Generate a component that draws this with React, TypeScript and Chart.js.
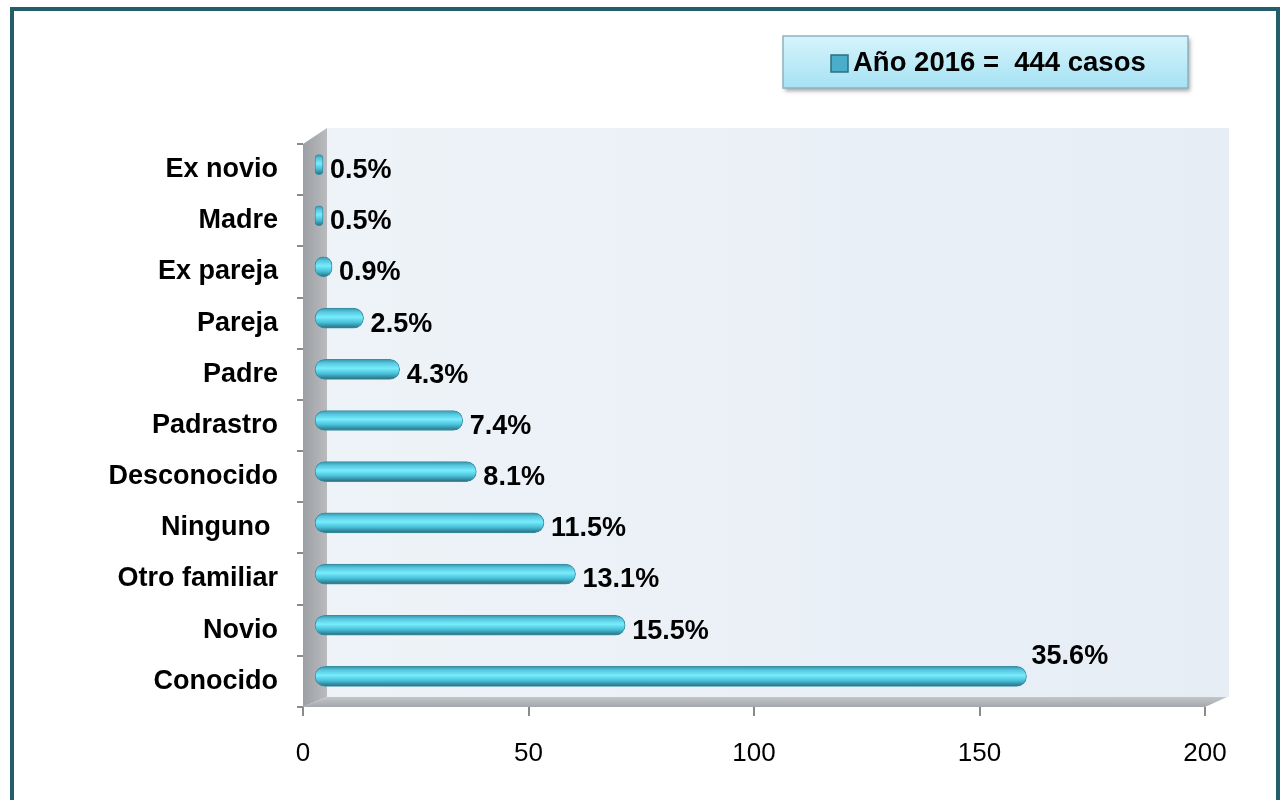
import React, { useEffect, useRef } from "react";
import { Chart, registerables } from "chart.js";

Chart.register(...registerables);

const categories = [
  "Ex novio",
  "Madre",
  "Ex pareja",
  "Pareja",
  "Padre",
  "Padrastro",
  "Desconocido",
  "Ninguno ",
  "Otro familiar",
  "Novio",
  "Conocido",
];
const casos = [2, 2, 4, 11, 19, 33, 36, 51, 58, 69, 158];
const porcentajes = ["0.5%", "0.5%", "0.9%", "2.5%", "4.3%", "7.4%", "8.1%", "11.5%", "13.1%", "15.5%", "35.6%"];
const xMin = 0;
const xMax = 200;
const xStep = 50;
const seriesLabel = "Año 2016 =  444 casos";

const FONT = "Arial, 'Liberation Sans', sans-serif";
const DX = 11;
const DY = -5;

const scenePlugin = {
  id: "scene3d",
  beforeDraw(chart: any) {
    const { ctx, chartArea } = chart;
    const l = chartArea.left, r = chartArea.right, t = chartArea.top, b = chartArea.bottom;
    const depthX = 24, depthY = 10;
    ctx.save();
    const bg = ctx.createLinearGradient(l + depthX, 0, r + depthX, 0);
    bg.addColorStop(0, "#eef3f8");
    bg.addColorStop(1, "#e6edf5");
    ctx.fillStyle = bg;
    ctx.fillRect(l + depthX, t - depthY - 6, r - l, b - t + 6);
    const wg = ctx.createLinearGradient(l, 0, l + depthX, 0);
    wg.addColorStop(0, "#9c9fa3");
    wg.addColorStop(1, "#b9bbbe");
    ctx.fillStyle = wg;
    ctx.beginPath();
    ctx.moveTo(l, t);
    ctx.lineTo(l + depthX, t - depthY - 6);
    ctx.lineTo(l + depthX, b - depthY);
    ctx.lineTo(l, b);
    ctx.closePath();
    ctx.fill();
    const fg = ctx.createLinearGradient(0, b - depthY, 0, b);
    fg.addColorStop(0, "#c3c6c9");
    fg.addColorStop(1, "#a4a7ab");
    ctx.fillStyle = fg;
    ctx.beginPath();
    ctx.moveTo(l, b);
    ctx.lineTo(l + depthX, b - depthY);
    ctx.lineTo(r + 22, b - depthY);
    ctx.lineTo(r, b);
    ctx.closePath();
    ctx.fill();
    ctx.restore();
  },
  beforeDatasetsDraw(chart: any) {
    chart.ctx.save();
    chart.ctx.translate(DX, DY);
  },
  afterDatasetsDraw(chart: any) {
    const ctx = chart.ctx;
    ctx.restore();
    const meta = chart.getDatasetMeta(0);
    const maxVal = Math.max(...casos);
    ctx.save();
    ctx.font = `bold 27px ${FONT}`;
    ctx.fillStyle = "#000000";
    ctx.textAlign = "left";
    ctx.textBaseline = "middle";
    meta.data.forEach((el: any, i: number) => {
      const v = casos[i];
      if (v === maxVal) {
        ctx.fillText(porcentajes[i], el.x + DX + 5, el.y + DY - 20);
      } else {
        ctx.fillText(porcentajes[i], el.x + DX + 7, el.y + 1);
      }
    });
    ctx.restore();
  },
  afterDraw(chart: any) {
    const ctx = chart.ctx;
    const ds = chart.data.datasets[0];
    const x = 783, y = 36, w = 405, h = 52;
    ctx.save();
    ctx.shadowColor = "rgba(0,0,0,0.35)";
    ctx.shadowOffsetX = 2;
    ctx.shadowOffsetY = 3;
    ctx.shadowBlur = 4;
    const g = ctx.createLinearGradient(0, y, 0, y + h);
    g.addColorStop(0, "#d6f4fc");
    g.addColorStop(1, "#a6e2f3");
    ctx.fillStyle = g;
    ctx.fillRect(x, y, w, h);
    ctx.shadowColor = "transparent";
    ctx.strokeStyle = "#8db2c0";
    ctx.lineWidth = 1.5;
    ctx.strokeRect(x, y, w, h);
    ctx.fillStyle = "#4aaecb";
    ctx.fillRect(831, 55, 17, 17);
    ctx.strokeStyle = "#2b6f80";
    ctx.lineWidth = 1.5;
    ctx.strokeRect(831, 55, 17, 17);
    ctx.font = `bold 27.5px ${FONT}`;
    ctx.fillStyle = "#000000";
    ctx.textAlign = "left";
    ctx.textBaseline = "middle";
    ctx.fillText(ds.label, 853, 63);
    ctx.restore();
  },
};

function barGradient(context: any) {
  const chart = context.chart;
  const yScale = chart.scales?.y;
  if (!yScale || context.dataIndex === undefined) return "#55c9e0";
  const cy = yScale.getPixelForValue(context.dataIndex);
  if (!Number.isFinite(cy)) return "#55c9e0";
  const half = 10;
  const g = chart.ctx.createLinearGradient(0, cy - half, 0, cy + half);
  g.addColorStop(0, "#3592a8");
  g.addColorStop(0.18, "#54c6de");
  g.addColorStop(0.45, "#79ecfc");
  g.addColorStop(0.72, "#46bfd8");
  g.addColorStop(1, "#286a7b");
  return g;
}

export default function App() {
  const canvasRef = useRef<HTMLCanvasElement | null>(null);

  useEffect(() => {
    if (!canvasRef.current) return;
    const chart = new Chart(canvasRef.current, {
      type: "bar",
      data: {
        labels: categories,
        datasets: [
          {
            label: seriesLabel,
            data: casos,
            backgroundColor: barGradient as any,
            borderColor: "#3a8ea2",
            borderWidth: 1,
            borderSkipped: false,
            borderRadius: 10,
            barThickness: 20,
          },
        ],
      },
      options: {
        indexAxis: "y",
        responsive: false,
        animation: false,
        devicePixelRatio: 1,
        layout: { padding: { left: 0, top: 144, right: 75, bottom: 0 } },
        plugins: {
          legend: { display: false },
          tooltip: { enabled: false },
          title: { display: false },
        },
        scales: {
          x: {
            type: "linear",
            min: xMin,
            max: xMax,
            ticks: {
              stepSize: xStep,
              color: "#000000",
              font: { family: FONT, size: 26, weight: "normal" },
              padding: 22,
            },
            grid: { drawOnChartArea: false, drawTicks: true, tickLength: 9, color: "#8a8a8a", lineWidth: 2 },
            border: { display: false },
            afterFit(scale: any) {
              scale.height = 93;
            },
          },
          y: {
            type: "category",
            ticks: {
              color: "#000000",
              font: { family: FONT, size: 27, weight: "bold" },
              padding: 19,
              autoSkip: false,
            },
            grid: { drawOnChartArea: false, drawTicks: true, tickLength: 6, color: "#8a8a8a", lineWidth: 2, offset: true },
            border: { display: false },
            afterFit(scale: any) {
              scale.width = 303;
            },
          },
        },
      } as any,
      plugins: [scenePlugin],
    });
    return () => chart.destroy();
  }, []);

  return (
    <div style={{ position: "absolute", left: 0, top: 0, width: 1280, height: 800, overflow: "hidden", background: "#ffffff" }}>
      <canvas ref={canvasRef} width={1280} height={800} style={{ position: "absolute", left: 0, top: 0, width: 1280, height: 800 }} />
      <div
        style={{
          position: "absolute",
          left: 10,
          top: 7,
          width: 1270,
          height: 820,
          boxSizing: "border-box",
          borderLeft: "4px solid #245e6b",
          borderTop: "4px solid #245e6b",
          borderRight: "4px solid #245e6b",
          pointerEvents: "none",
        }}
      />
    </div>
  );
}
